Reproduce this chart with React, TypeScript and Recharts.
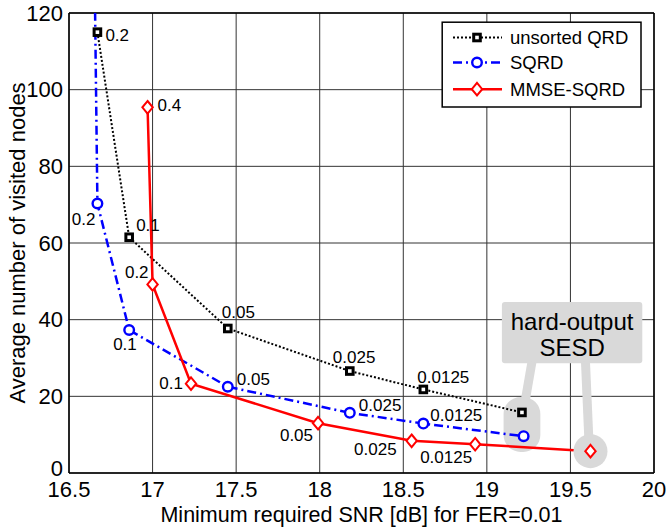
import React from 'react';
import {
  LineChart, Line, XAxis, YAxis, CartesianGrid, ReferenceLine,
  ReferenceArea, ReferenceDot, LabelList,
} from 'recharts';

// ---- data ----
const xTicks = [16.5, 17, 17.5, 18, 18.5, 19, 19.5, 20];
const yTicks = [0, 20, 40, 60, 80, 100, 120];

const unsortedSnr = [16.67, 16.86, 17.45, 18.18, 18.62, 19.21];
const unsortedNodes = [115, 61.5, 37.7, 26.6, 21.8, 15.8];
const unsortedLabels = ['0.2', '0.1', '0.05', '0.025', '0.0125', ''];

const sqrdSnr = [16.645, 16.67, 16.86, 17.45, 18.18, 18.62, 19.22];
const sqrdNodes = [160, 70.3, 37.3, 22.5, 15.7, 12.9, 9.6];
const sqrdLabels = ['', '0.2', '0.1', '0.05', '0.025', '0.0125', ''];

const mmseSnr = [16.97, 17.0, 17.23, 17.99, 18.55, 18.93, 19.62];
const mmseNodes = [95.4, 49.2, 23.3, 13.0, 8.4, 7.5, 5.7];
const mmseLabels = ['0.4', '0.2', '0.1', '0.05', '0.025', '0.0125', ''];

const seriesNames = ['unsorted QRD', 'SQRD', 'MMSE-SQRD'];
const annotationText = ['hard-output', 'SESD'];

const build = (xs: number[], ys: number[], ls: string[]) =>
  xs.map((x, i) => ({ x, y: ys[i], label: ls[i] }));

const unsortedData = build(unsortedSnr, unsortedNodes, unsortedLabels);
const sqrdData = build(sqrdSnr, sqrdNodes, sqrdLabels);
const mmseData = build(mmseSnr, mmseNodes, mmseLabels);

// ---- styles ----
const FONT = '"Liberation Sans", Arial, sans-serif';
const GRAY = '#d9d9d9';

type Off = { dx: number; dy: number; a: 'start' | 'end' };
const unsortedOff: Off[] = [
  { dx: 8, dy: 3, a: 'start' },
  { dx: 7, dy: -12, a: 'start' },
  { dx: -6, dy: -16, a: 'start' },
  { dx: -17, dy: -14, a: 'start' },
  { dx: -6, dy: -12, a: 'start' },
  { dx: 0, dy: 0, a: 'start' },
];
const sqrdOff: Off[] = [
  { dx: 0, dy: 0, a: 'start' },
  { dx: -2, dy: 16, a: 'end' },
  { dx: -16, dy: 14, a: 'start' },
  { dx: 9, dy: -7, a: 'start' },
  { dx: 9, dy: -7, a: 'start' },
  { dx: 7, dy: -8, a: 'start' },
  { dx: 0, dy: 0, a: 'start' },
];
const mmseOff: Off[] = [
  { dx: 10, dy: -2, a: 'start' },
  { dx: -4, dy: -12, a: 'end' },
  { dx: -8, dy: 0, a: 'end' },
  { dx: -5, dy: 12, a: 'end' },
  { dx: -15, dy: 9, a: 'end' },
  { dx: -3, dy: 13, a: 'end' },
  { dx: 0, dy: 0, a: 'end' },
];

const makeLabel = (offs: Off[]) => (props: any) => {
  const { x, y, index, value } = props;
  if (!value || x == null || y == null) return null;
  const o = offs[index] || { dx: 0, dy: 0, a: 'start' };
  return (
    <text
      x={x + o.dx}
      y={y + o.dy}
      textAnchor={o.a}
      dominantBaseline="central"
      fontSize={17}
      fontFamily={FONT}
      fill="#000"
    >
      {value}
    </text>
  );
};

const YTick = (props: any) => {
  const { x, y, payload } = props;
  const shift = payload.value === 0 ? -5 : 0;
  return (
    <text x={x} y={y + shift} textAnchor="end" dominantBaseline="central"
      fontSize={22} fontFamily={FONT} fill="#000">{payload.value}</text>
  );
};

const inRange = (p: any) =>
  p && p.cx != null && p.cy != null && p.payload && p.payload.y <= 120;

const SquareDot = (p: any) => {
  if (!inRange(p)) return <g key={`s${p.index}`} />;
  return (
    <rect key={`s${p.index}`} x={p.cx - 3.3} y={p.cy - 3.3} width={6.6} height={6.6}
      fill="#fff" stroke="#000" strokeWidth={3} />
  );
};
const CircleDot = (p: any) => {
  if (!inRange(p)) return <g key={`c${p.index}`} />;
  return (
    <circle key={`c${p.index}`} cx={p.cx} cy={p.cy} r={4.8}
      fill="#fff" stroke="#0000ff" strokeWidth={2.4} />
  );
};
const DiamondDot = (p: any) => {
  if (!inRange(p)) return <g key={`d${p.index}`} />;
  const { cx, cy } = p;
  return (
    <path key={`d${p.index}`}
      d={`M${cx},${cy - 6.3}L${cx + 5.2},${cy}L${cx},${cy + 6.3}L${cx - 5.2},${cy}Z`}
      fill="#fff" stroke="#ff0000" strokeWidth={2} />
  );
};

const AnnotationBox = (props: any) => {
  const { x, y, width, height } = props;
  if (x == null) return null;
  const cx = x + width / 2;
  return (
    <g>
      <rect x={x} y={y} width={width} height={height} rx={3} fill={GRAY} />
      <text x={cx} y={y + 19} textAnchor="middle" dominantBaseline="central"
        fontSize={24} fontFamily={FONT} fill="#000">{annotationText[0]}</text>
      <text x={cx} y={y + 45} textAnchor="middle" dominantBaseline="central"
        fontSize={24} fontFamily={FONT} fill="#000">{annotationText[1]}</text>
    </g>
  );
};

const PillShape = (props: any) => {
  const { x, y, width, height } = props;
  if (x == null) return null;
  return <rect x={x} y={y} width={width} height={height} rx={17} fill={GRAY} />;
};

const LegendOverlay = () => {
  const rows = [16.5, 41.5, 68.2];
  return (
    <svg width={202} height={88} style={{ position: 'absolute', left: 441, top: 21 }}>
      <rect x={1.2} y={1.2} width={198.8} height={84.8} fill="#fff" stroke="#000" strokeWidth={1.5} />
      <line x1={12} x2={61} y1={rows[0]} y2={rows[0]} stroke="#000" strokeWidth={2} strokeDasharray="2 2" />
      <rect x={32.7} y={rows[0] - 3.3} width={6.6} height={6.6} fill="#fff" stroke="#000" strokeWidth={3} />
      <line x1={12} x2={61} y1={rows[1]} y2={rows[1]} stroke="#0000ff" strokeWidth={2.5} strokeDasharray="9 4 2 4" />
      <circle cx={36} cy={rows[1]} r={4.8} fill="#fff" stroke="#0000ff" strokeWidth={2.4} />
      <line x1={12} x2={61} y1={rows[2]} y2={rows[2]} stroke="#ff0000" strokeWidth={2.5} />
      <path d={`M36,${rows[2] - 6.3}L41.2,${rows[2]}L36,${rows[2] + 6.3}L30.8,${rows[2]}Z`}
        fill="#fff" stroke="#ff0000" strokeWidth={2} />
      {seriesNames.map((n, i) => (
        <text key={n} x={69} y={rows[i]} dominantBaseline="central" fontSize={18.5}
          fontFamily={FONT} fill="#000">{n}</text>
      ))}
    </svg>
  );
};

export default function App() {
  return (
    <div style={{ position: 'absolute', left: 0, top: 0, width: 667, height: 529, background: '#fff', fontFamily: FONT }}>
      <LineChart width={667} height={529} margin={{ top: 13, right: 13, bottom: 0, left: 0 }}>
        <CartesianGrid stroke="#333" strokeWidth={1} />
        <XAxis
          type="number" dataKey="x" domain={[16.5, 20]} ticks={xTicks} allowDataOverflow
          height={56} tickSize={0} tickMargin={8} tickLine={false}
          axisLine={{ stroke: '#000', strokeWidth: 1.5 }}
          tick={{ fontSize: 22, fill: '#000', fontFamily: FONT }}
          label={{ value: 'Minimum required SNR [dB] for FER=0.01', position: 'insideBottom', offset: 7,
            style: { fontSize: 21.5, fill: '#000', fontFamily: FONT } }}
        />
        <YAxis
          type="number" dataKey="y" domain={[0, 120]} ticks={yTicks} allowDataOverflow
          width={69} tickSize={0} tickMargin={6} tickLine={false}
          axisLine={{ stroke: '#000', strokeWidth: 1.5 }}
          tick={YTick}
          label={{ value: 'Average number of visited nodes', angle: -90, position: 'insideLeft', offset: 17,
            style: { fontSize: 22, fill: '#000', fontFamily: FONT, textAnchor: 'middle' } }}
        />
        <ReferenceLine y={120} stroke="#000" strokeWidth={1.5} />
        <ReferenceLine x={20} stroke="#000" strokeWidth={1.5} />

        <ReferenceLine segment={[{ x: 19.27, y: 29 }, { x: 19.23, y: 19 }]} stroke={GRAY} strokeWidth={9} />
        <ReferenceLine segment={[{ x: 19.59, y: 29 }, { x: 19.61, y: 9 }]} stroke={GRAY} strokeWidth={9} />
        <ReferenceArea x1={19.1} x2={19.32} y1={5.5} y2={19.8} shape={PillShape} />
        <ReferenceDot x={19.62} y={5.7} r={17} fill={GRAY} stroke="none" />
        <ReferenceArea x1={19.09} x2={19.93} y1={28.6} y2={44.6} shape={AnnotationBox} />

        <Line data={unsortedData} dataKey="y" name={seriesNames[0]} type="linear" stroke="#000"
          strokeWidth={2} strokeDasharray="2 2" dot={SquareDot} isAnimationActive={false}>
          <LabelList dataKey="label" content={makeLabel(unsortedOff)} />
        </Line>
        <Line data={sqrdData} dataKey="y" name={seriesNames[1]} type="linear" stroke="#0000ff"
          strokeWidth={2.5} strokeDasharray="9 4 2 4" dot={CircleDot} isAnimationActive={false}>
          <LabelList dataKey="label" content={makeLabel(sqrdOff)} />
        </Line>
        <Line data={mmseData} dataKey="y" name={seriesNames[2]} type="linear" stroke="#ff0000"
          strokeWidth={2.5} dot={DiamondDot} isAnimationActive={false}>
          <LabelList dataKey="label" content={makeLabel(mmseOff)} />
        </Line>
      </LineChart>
      <LegendOverlay />
    </div>
  );
}
